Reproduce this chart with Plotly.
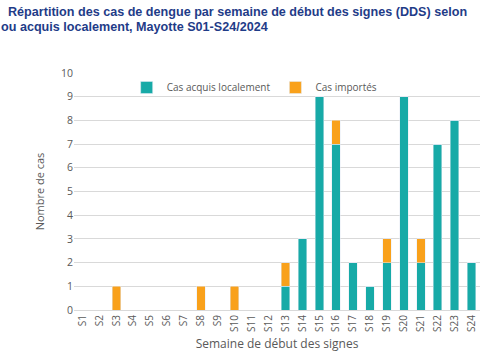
import plotly.graph_objects as go

weeks = [f"S{i}" for i in range(1, 25)]
local = [0,0,0,0,0,0,0,0,0,0,0,0,1,3,9,7,2,1,2,9,2,7,8,2]
imported = [0,0,1,0,0,0,0,1,0,1,0,0,1,0,0,1,0,0,1,0,1,0,0,0]

title1 = "Répartition des cas de dengue par semaine de début des signes (DDS) selon"
title2 = "ou acquis localement, Mayotte S01-S24/2024"

fig = go.Figure()
fig.add_bar(x=weeks, y=local, name="Cas acquis localement", marker_color="#17AAA7")
fig.add_bar(x=weeks, y=imported, name="Cas importés", marker_color="#F9A11B")

tfont = dict(family="Liberation Sans, Arial, sans-serif", size=12.6, color="#1F3C88", weight="bold")
fig.update_layout(
    width=485, height=360,
    barmode="stack", bargap=0.5,
    plot_bgcolor="white", paper_bgcolor="white",
    margin=dict(l=74, r=5, t=73, b=50),
    font=dict(family="Open Sans, Lato, sans-serif", size=10, color="#595959"),
    legend=dict(orientation="h", x=0.445, xanchor="center", y=1.0, yanchor="top",
                font=dict(size=10, color="#595959"), itemwidth=30, bgcolor="rgba(0,0,0,0)",
                traceorder="normal"),
    annotations=[
        dict(text=title1, xref="paper", yref="paper", x=-74/406, y=1+73/237,
             xanchor="left", yanchor="top", showarrow=False, font=tfont, xshift=6, yshift=-3),
        dict(text=title2, xref="paper", yref="paper", x=-74/406, y=1+73/237,
             xanchor="left", yanchor="top", showarrow=False, font=tfont, xshift=-1, yshift=-18),
    ],
)
fig.update_xaxes(title=dict(text="Semaine de début des signes", font=dict(size=12, color="#595959"), standoff=8),
                 tickangle=-90, showline=True, linecolor="#D9D9D9", ticks="", tickfont=dict(size=10))
fig.update_yaxes(title=dict(text="Nombre de cas", font=dict(size=11, color="#595959"), standoff=14),
                 range=[0, 10], dtick=1, gridcolor="#D9D9D9", zeroline=False, ticks="",
                 tickfont=dict(size=10.5))

fig.write_html("out.html", config={"displayModeBar": False},
               post_script="document.body.style.margin='0';document.body.style.overflow='hidden';")
